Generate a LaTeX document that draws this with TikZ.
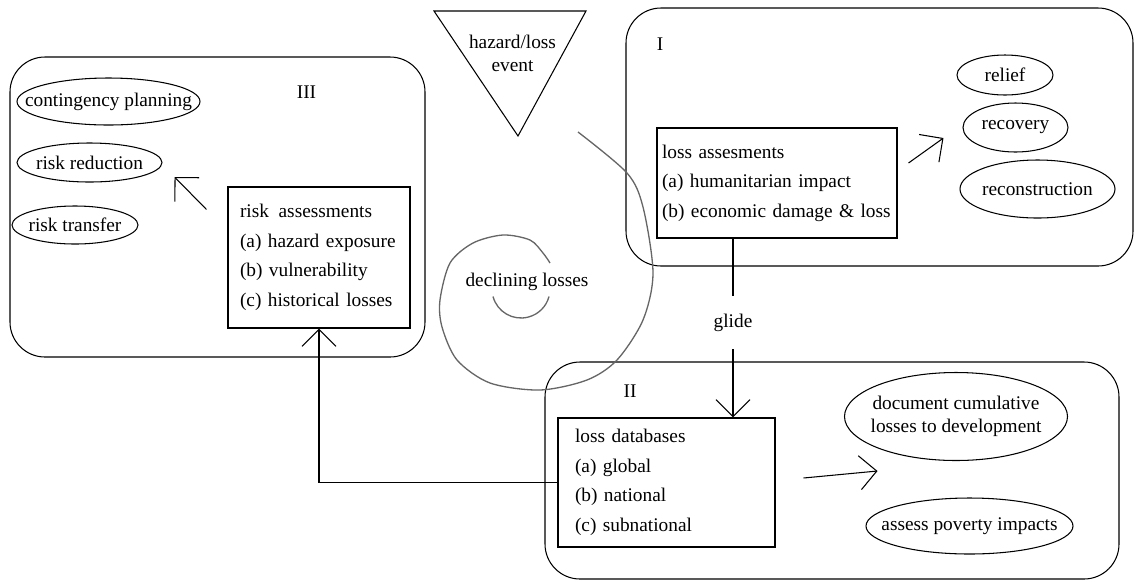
\documentclass[tikz,border=0pt]{standalone}
\usepackage{fontspec}
\setmainfont{Liberation Serif}
\usetikzlibrary{arrows.meta,shapes.geometric}

\begin{document}
\begin{tikzpicture}[line width=0.6pt, font=\fontsize{11}{16.8}\selectfont,
		zone/.style = {draw, rounded corners=0.7cm},
		box/.style = {draw, align=left, inner ysep=0pt},
		oval/.style = {draw, ellipse, inner sep=0pt},
		barb/.style = {-{Straight Barb[length=3.4mm, width=6.8mm]}},
		spiral/.style = {draw=black!60, line width=0.75pt},
		twoline/.style = {align=center, font=\fontsize{11}{13}\selectfont}]
	\useasboundingbox (0,0) rectangle (22.68,-11.62);
	
	\node[zone, minimum width=8.3cm, minimum height=6cm] (zone3) at (4.35,-4.14) {};
	\node[zone, minimum width=10.14cm, minimum height=5.16cm] (zone1) at (17.59,-2.74) {};
	\node[zone, minimum width=11.48cm, minimum height=4.34cm] (zone2) at (16.64,-9.41) {};
	\node (lab1) at (13.2,-0.88) {I};
	\node (lab2) at (12.6,-7.83) {II};
	\node (lab3) at (6.13,-1.85) {III};
	
	\draw (8.68,-0.22) -- (11.72,-0.22) -- (10.36,-2.72) -- cycle;
	\node[twoline] (event) at (10.25,-1.07) {hazard/loss\\event};
	
	\draw[spiral] plot[smooth] coordinates {(11.56,-2.64) (12.54,-3.46) (12.86,-4.14) (13.06,-5.46) (12.86,-6.4) (12.34,-7.2) (11.74,-7.6) (10.8,-7.8) (9.8,-7.66) (9.14,-7.2) (8.84,-6.54) (8.8,-6.0) (9.0,-5.26) (9.46,-4.86) (10.06,-4.7) (10.6,-4.8) (10.86,-5.06) (11.0,-5.26)};
	\draw[spiral] (9.86,-5.93) arc[start angle=195, end angle=345, radius=0.58];
	\node (decl) at (10.54,-5.64) {declining losses};
	
	\node[box, inner xsep=0.1cm, text width=4.6cm, minimum height=2.2cm] (lossA) at (15.54,-3.66) {loss assesments\\(a) humanitarian impact\\(b) economic damage \& loss};
	\node[box, inner xsep=0.24cm, text width=3.16cm, minimum height=2.82cm] (riskA) at (6.38,-5.15) {risk\enspace assessments\\(a) hazard exposure\\(b) vulnerability\\(c) historical losses};
	\node[box, inner xsep=0.34cm, text width=3.66cm, minimum height=2.58cm] (lossDB) at (13.33,-9.65) {loss databases\\(a) global\\(b) national\\(c) subnational};
	
	\node[oval, minimum width=1.92cm, minimum height=0.8cm, label=center:relief] (relief) at (20.1,-1.5) {};
	\node[oval, minimum width=2.1cm, minimum height=0.98cm, label=center:recovery] (recovery) at (20.31,-2.55) {};
	\node[oval, minimum width=3.1cm, minimum height=1.16cm, label=center:reconstruction] (reconstr) at (20.75,-3.78) {};
	\node[oval, minimum width=3.66cm, minimum height=0.94cm, label=center:contingency planning] (conting) at (2.17,-2.03) {};
	\node[oval, minimum width=2.9cm, minimum height=0.78cm, label=center:risk reduction] (reduction) at (1.79,-3.25) {};
	\node[oval, minimum width=2.52cm, minimum height=0.76cm, label=center:risk transfer] (transfer) at (1.5,-4.5) {};
	\node[oval, minimum width=4.46cm, minimum height=1.76cm, label={[twoline]center:document cumulative\\losses to development}] (cumul) at (19.12,-8.33) {};
	\node[oval, minimum width=4.14cm, minimum height=1.12cm, label=center:assess poverty impacts] (poverty) at (19.39,-10.52) {};
	
	\coordinate (gx) at (14.66,0);
	\draw[barb] (lossA.south -| gx) -- node[fill=white, inner ysep=0.35cm, pos=0.47] (glide) {glide} (lossDB.north -| gx);
	\draw[barb] (lossDB.west) -| (riskA.south);
	\draw[barb] ([shift={(0.22,0.4)}]lossA.east) -- ([shift={(-0.38,-0.21)}]recovery.west);
	\draw[barb] ([shift={(-0.42,-0.46)}]riskA.north west) -- ([shift={(0.24,-0.29)}]reduction.east);
	\draw[barb] ([shift={(0.56,0.09)}]lossDB.east) -- ([shift={(2.04,0.23)}]lossDB.east);
	
\end{tikzpicture}
\end{document}
